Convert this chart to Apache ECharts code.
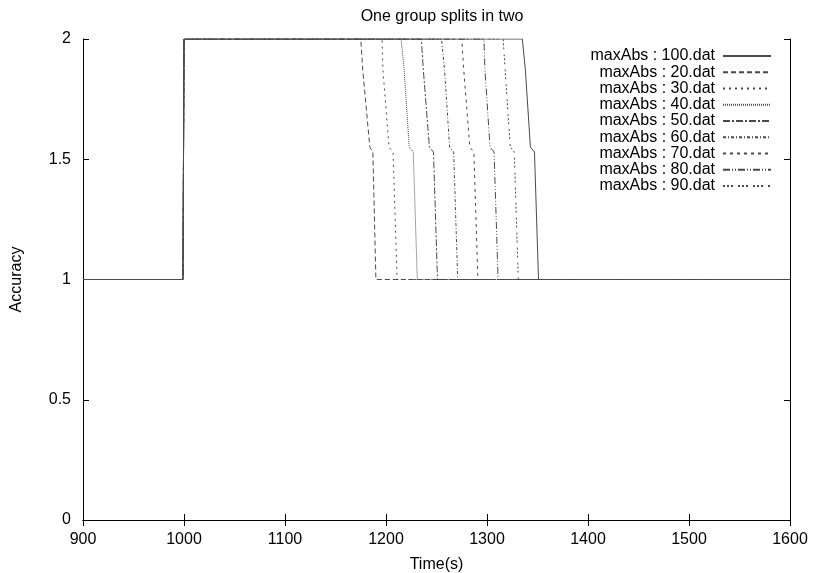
<!DOCTYPE html>
<html>
<head>
<meta charset="utf-8">
<script src="https://cdn.jsdelivr.net/npm/echarts@6/dist/echarts.min.js"></script>
<style>
html, body { margin: 0; padding: 0; background: #fff; }
#main { width: 814px; height: 573px; }
</style>
</head>
<body>
<div id="main"></div>
<script>
// accuracy levels shared by every run (y values of the points below)
var accuracyLevels = [1, 1, 2, 2, 1.87, 1.55, 1.53, 1, 1];

// time (s) of each point, one list per data file
var times20 = [900, 999, 1000, 1175, 1177, 1184, 1187, 1190, 1600];
var times30 = [900, 999, 1000, 1196, 1197, 1203, 1207, 1211, 1600];
var times40 = [900, 999, 1000, 1215, 1218, 1223, 1227, 1231, 1600];
var times50 = [900, 999, 1000, 1235, 1237, 1243, 1247, 1251, 1600];
var times60 = [900, 999, 1000, 1255, 1258, 1263, 1267, 1271, 1600];
var times70 = [900, 999, 1000, 1275, 1277, 1283, 1287, 1291, 1600];
var times80 = [900, 999, 1000, 1297, 1298, 1303, 1307, 1311, 1600];
var times90 = [900, 999, 1000, 1316, 1318, 1323, 1327, 1331, 1600];
var times100 = [900, 999, 1000, 1335, 1338, 1343, 1347, 1351, 1600];

var seriesNames = ['maxAbs : 100.dat', 'maxAbs : 20.dat', 'maxAbs : 30.dat', 'maxAbs : 40.dat',
	'maxAbs : 50.dat', 'maxAbs : 60.dat', 'maxAbs : 70.dat', 'maxAbs : 80.dat', 'maxAbs : 90.dat'];
var seriesTimes = [times100, times20, times30, times40, times50, times60, times70, times80, times90];

// gnuplot-like dash patterns
var dashTypes = [
	'solid',
	[5, 3],
	[2, 4],
	[1, 1],
	[7, 2, 2, 2],
	[3, 2, 1, 2],
	[3, 4],
	[7, 2, 1, 2, 1, 2],
	[2, 2, 2, 2, 2, 5]
];

function pairs(xs, ys) {
	var out = [];
	for (var i = 0; i < xs.length; i++) {
		out.push([xs[i], ys[i]]);
	}
	return out;
}

var series = [];
for (var i = 0; i < seriesNames.length; i++) {
	series.push({
		name: seriesNames[i],
		type: 'line',
		symbol: 'none',
		animation: false,
		xAxisIndex: 0,
		yAxisIndex: 0,
		lineStyle: {
			color: '#4a4a4a',
			width: 1,
			type: dashTypes[i]
		},
		itemStyle: { color: '#4a4a4a' },
		data: pairs(seriesTimes[i], accuracyLevels)
	});
}

var font = 'Liberation Sans, Arial, sans-serif';
var tickStyle = { show: true, inside: true, length: 6, lineStyle: { color: '#000', width: 1 } };
var lineStyle = { show: true, lineStyle: { color: '#000', width: 1 } };

var chart = echarts.init(document.getElementById('main'), null, { renderer: 'canvas' });
chart.setOption({
	backgroundColor: '#fff',
	animation: false,
	title: {
		text: 'One group splits in two',
		left: 437,
		top: 4,
		textAlign: 'center',
		textStyle: { fontFamily: font, fontSize: 16, fontWeight: 'normal', color: '#000' }
	},
	legend: {
		orient: 'vertical',
		right: 37,
		top: 43,
		align: 'right',
		itemWidth: 48,
		itemHeight: 10,
		itemGap: 0.25,
		data: seriesNames,
		itemStyle: { opacity: 0 },
		textStyle: {
			fontFamily: font,
			fontSize: 16,
			color: '#000',
			width: 126,
			align: 'right',
			lineHeight: 16,
			padding: [0, 3, 0, 0]
		}
	},
	grid: { left: 83, right: 24, top: 39, bottom: 53, containLabel: false, outerBoundsMode: 'none' },
	xAxis: [{
		type: 'value',
		min: 900,
		max: 1600,
		interval: 100,
		name: 'Time(s)',
		nameLocation: 'middle',
		nameGap: 37,
		nameTextStyle: { fontFamily: font, fontSize: 16, color: '#000' },
		axisLine: lineStyle,
		axisTick: tickStyle,
		axisLabel: { fontFamily: font, fontSize: 16, color: '#000', margin: 12, formatter: function (v) { return String(v); } },
		splitLine: { show: false }
	}, {
		type: 'value',
		position: 'top',
		min: 900,
		max: 1600,
		interval: 100,
		axisLine: lineStyle,
		axisTick: tickStyle,
		axisLabel: { show: false },
		splitLine: { show: false }
	}],
	yAxis: [{
		type: 'value',
		min: 0,
		max: 2,
		interval: 0.5,
		name: 'Accuracy',
		nameLocation: 'middle',
		nameGap: 58,
		nameTextStyle: { fontFamily: font, fontSize: 16, color: '#000' },
		axisLine: lineStyle,
		axisTick: tickStyle,
		axisLabel: { fontFamily: font, fontSize: 16, color: '#000', margin: 12 },
		splitLine: { show: false }
	}, {
		type: 'value',
		position: 'right',
		min: 0,
		max: 2,
		interval: 0.5,
		axisLine: lineStyle,
		axisTick: tickStyle,
		axisLabel: { show: false },
		splitLine: { show: false }
	}],
	series: series
});
</script>
</body>
</html>
